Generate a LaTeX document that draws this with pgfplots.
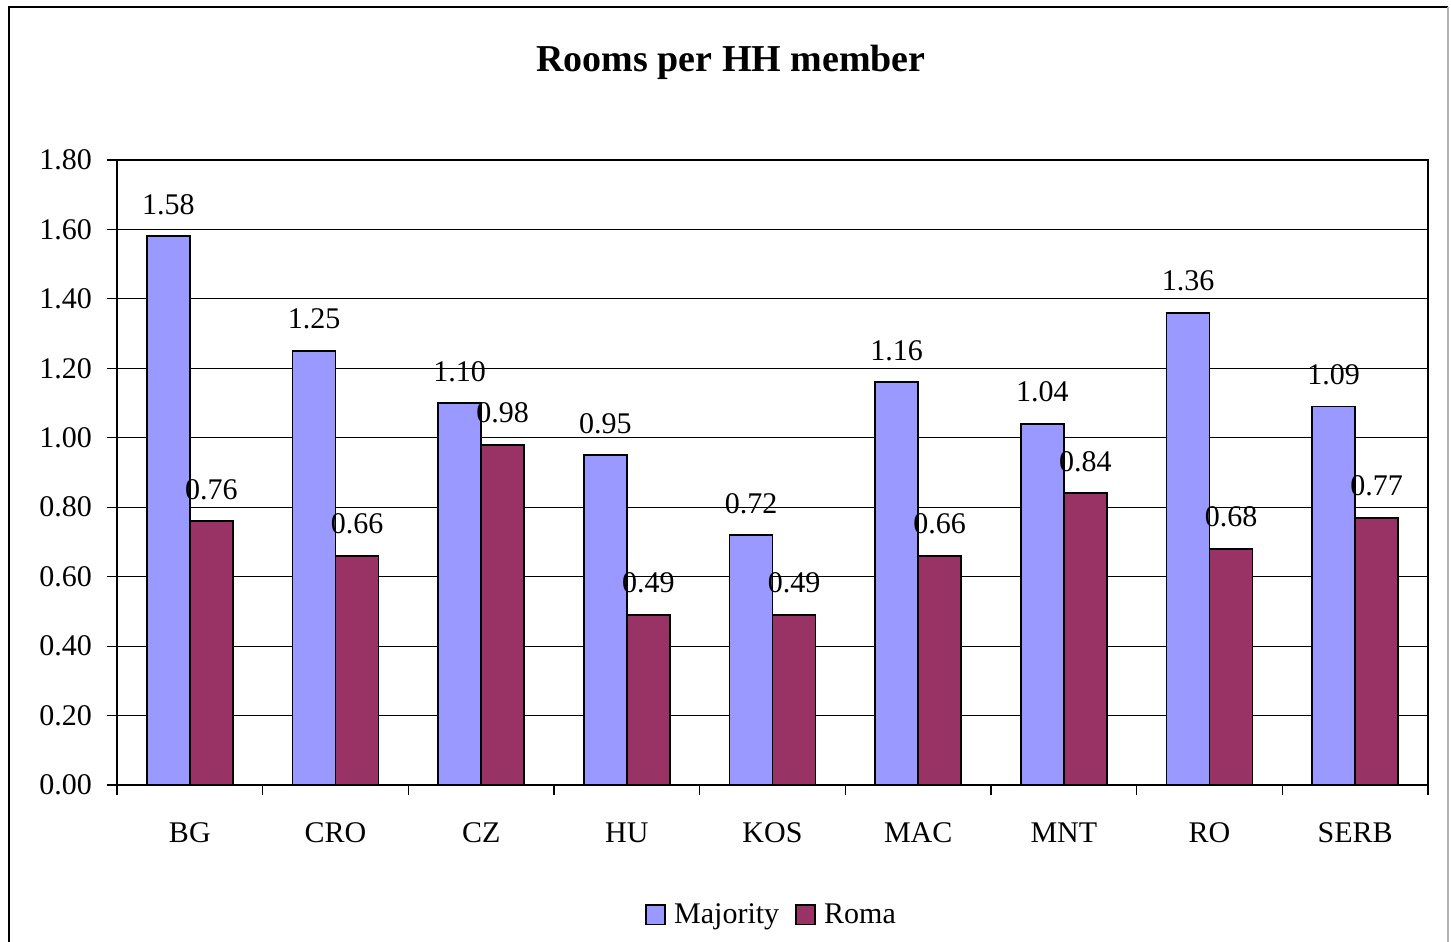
\documentclass[border=0pt]{standalone}
\usepackage{fontspec}
\setmainfont{Liberation Serif}
\usepackage{pgfplots}
\pgfplotsset{compat=1.18}
\definecolor{major}{HTML}{9999FF}
\definecolor{roma}{HTML}{993366}
\begin{document}
\begin{tikzpicture}
\useasboundingbox (-58.5pt,-78.5pt) rectangle (667pt,392.5pt);
\draw[black,line width=0.8pt] (-54pt,-90pt) -- (-54pt,389pt) -- (665.5pt,389pt);
\draw[gray!60,line width=0.8pt] (665.5pt,389pt) -- (665.5pt,-90pt);
\node[font=\fontsize{19}{21}\selectfont\bfseries] at (307pt,361.5pt) {Rooms per HH member};
\begin{axis}[
  at={(0,0)}, anchor=south west,
  scale only axis, width=655.5pt, height=312.5pt,
  ybar, bar width=21.5pt, ybar=0pt,
  xmin=-0.5, xmax=8.5, ymin=0, ymax=1.8,
  xtick={0,...,8},
  xticklabels={BG,CRO,CZ,HU,KOS,MAC,MNT,RO,SERB},
  major x tick style={draw=none},
  minor xtick={-0.5,0.5,...,8.5},
  minor tick length=5pt,
  ytick={0,0.2,...,1.8},
  major tick length=5pt,
  tick align=outside,
  xtick pos=bottom, ytick pos=left,
  ymajorgrids, grid style={black, line width=0.5pt},
  axis line style={black, line width=0.7pt},
  tick style={black, line width=0.6pt},
  yticklabel style={xshift=-4pt, /pgf/number format/fixed, /pgf/number format/fixed zerofill, /pgf/number format/precision=2, /pgf/number format/assume math mode=true},
  xticklabel style={yshift=-10.5pt},
  ticklabel style={font=\fontsize{15}{17}\selectfont},
  nodes near coords,
  nodes near coords style={font=\fontsize{15}{17}\selectfont, yshift=7pt, /pgf/number format/fixed, /pgf/number format/fixed zerofill, /pgf/number format/precision=2, /pgf/number format/assume math mode=true},
  legend style={at={(0.5,-0.208)}, anchor=center, draw=none, legend columns=2,
    font=\fontsize{15}{17}\selectfont,
    /tikz/every odd column/.append style={column sep=2pt},
    /tikz/every even column/.append style={column sep=6pt}},
  legend image code/.code={\draw[#1, draw=black, line width=0.9pt] (0pt,-4.8pt) rectangle (9.6pt,4.8pt);},
]
\addplot[fill=major, draw=black, line width=0.9pt] coordinates {(0,1.58) (1,1.25) (2,1.10) (3,0.95) (4,0.72) (5,1.16) (6,1.04) (7,1.36) (8,1.09)};
\addplot[fill=roma, draw=black, line width=0.9pt] coordinates {(0,0.76) (1,0.66) (2,0.98) (3,0.49) (4,0.49) (5,0.66) (6,0.84) (7,0.68) (8,0.77)};
\legend{Majority, Roma}
\end{axis}
\end{tikzpicture}
\end{document}
